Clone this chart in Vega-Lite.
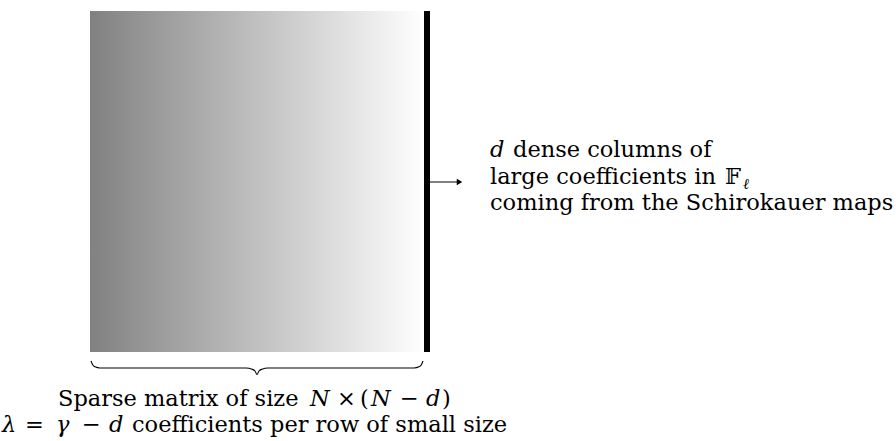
{
  "$schema": "https://vega.github.io/schema/vega-lite/v6.json",
  "width": 896,
  "height": 441,
  "autosize": {"type": "fit", "contains": "padding"},
  "padding": 0,
  "background": "white",
  "config": {"view": {"stroke": null}},
  "datasets": {
    "matrix": [{"x": 90, "x2": 424, "y": 11, "y2": 352}],
    "bar": [{"x": 424, "x2": 430, "y": 11, "y2": 352}],
    "arrow": [{"x": 430, "x2": 458, "y": 182}],
    "head": [{"x": 459.5, "y": 182}],
    "brace": [
      {"i": 0, "x": 91, "y": 361},
      {"i": 1, "x": 92.5, "y": 364.5},
      {"i": 2, "x": 95, "y": 366.8},
      {"i": 3, "x": 100, "y": 368},
      {"i": 4, "x": 246, "y": 368},
      {"i": 5, "x": 252, "y": 369.2},
      {"i": 6, "x": 255, "y": 371},
      {"i": 7, "x": 257, "y": 374.5},
      {"i": 8, "x": 259, "y": 371},
      {"i": 9, "x": 262, "y": 369.2},
      {"i": 10, "x": 268, "y": 368},
      {"i": 11, "x": 414, "y": 368},
      {"i": 12, "x": 419, "y": 366.8},
      {"i": 13, "x": 421.5, "y": 364.5},
      {"i": 14, "x": 423, "y": 361}
    ],
    "labels": [
      {"x": 490, "y": 157, "t": "d", "s": "i"},
      {"x": 513, "y": 157, "t": "dense columns of", "s": "r"},
      {"x": 490, "y": 184, "t": "large coefficients in", "s": "r"},
      {"x": 725, "y": 184, "t": "𝔽", "s": "r"},
      {"x": 743, "y": 189, "t": "ℓ", "s": "sub"},
      {"x": 490, "y": 210, "t": "coming from the Schirokauer maps", "s": "r"},
      {"x": 58, "y": 406, "t": "Sparse matrix of size", "s": "r"},
      {"x": 310, "y": 406, "t": "N", "s": "i"},
      {"x": 337, "y": 406, "t": "×", "s": "r"},
      {"x": 360, "y": 406, "t": "(", "s": "r"},
      {"x": 371, "y": 406, "t": "N", "s": "i"},
      {"x": 400, "y": 406, "t": "−", "s": "r"},
      {"x": 426, "y": 406, "t": "d", "s": "i"},
      {"x": 442, "y": 406, "t": ")", "s": "r"},
      {"x": 2, "y": 432, "t": "λ", "s": "i"},
      {"x": 25, "y": 432, "t": "=", "s": "r"},
      {"x": 56, "y": 432, "t": "γ", "s": "i"},
      {"x": 82, "y": 432, "t": "−", "s": "r"},
      {"x": 109, "y": 432, "t": "d", "s": "i"},
      {"x": 132, "y": 432, "t": "coefficients per row of small size", "s": "r"}
    ]
  },
  "layer": [
    {
      "data": {"name": "matrix"},
      "mark": {"type": "rect", "color": {"gradient": "linear", "x1": 0, "y1": 0, "x2": 1, "y2": 0, "stops": [{"offset": 0, "color": "#818181"}, {"offset": 1, "color": "#ffffff"}]}},
      "encoding": {
        "x": {"field": "x", "type": "quantitative", "scale": {"domain": [0, 896], "nice": false, "zero": false}, "axis": null},
        "x2": {"field": "x2"},
        "y": {"field": "y", "type": "quantitative", "scale": {"domain": [0, 441], "nice": false, "zero": false, "reverse": true}, "axis": null},
        "y2": {"field": "y2"}
      }
    },
    {
      "data": {"name": "bar"},
      "mark": {"type": "rect", "color": "black"},
      "encoding": {
        "x": {"field": "x", "type": "quantitative"},
        "x2": {"field": "x2"},
        "y": {"field": "y", "type": "quantitative"},
        "y2": {"field": "y2"}
      }
    },
    {
      "data": {"name": "arrow"},
      "mark": {"type": "rule", "color": "black", "strokeWidth": 1},
      "encoding": {
        "x": {"field": "x", "type": "quantitative"},
        "x2": {"field": "x2"},
        "y": {"field": "y", "type": "quantitative"}
      }
    },
    {
      "data": {"name": "head"},
      "mark": {"type": "point", "shape": "triangle-right", "filled": true, "color": "black", "opacity": 1, "size": 40},
      "encoding": {
        "x": {"field": "x", "type": "quantitative"},
        "y": {"field": "y", "type": "quantitative"}
      }
    },
    {
      "data": {"name": "brace"},
      "mark": {"type": "line", "color": "black", "strokeWidth": 1.1, "interpolate": "monotone"},
      "encoding": {
        "x": {"field": "x", "type": "quantitative"},
        "y": {"field": "y", "type": "quantitative"},
        "order": {"field": "i"}
      }
    },
    {
      "data": {"name": "labels"},
      "transform": [{"filter": "datum.s === 'r'"}],
      "mark": {"type": "text", "align": "left", "baseline": "alphabetic", "font": "DejaVu Serif", "fontSize": 22.5, "color": "black"},
      "encoding": {
        "x": {"field": "x", "type": "quantitative"},
        "y": {"field": "y", "type": "quantitative"},
        "text": {"field": "t"}
      }
    },
    {
      "data": {"name": "labels"},
      "transform": [{"filter": "datum.s === 'i'"}],
      "mark": {"type": "text", "align": "left", "baseline": "alphabetic", "font": "DejaVu Serif", "fontStyle": "italic", "fontSize": 22.5, "color": "black"},
      "encoding": {
        "x": {"field": "x", "type": "quantitative"},
        "y": {"field": "y", "type": "quantitative"},
        "text": {"field": "t"}
      }
    },
    {
      "data": {"name": "labels"},
      "transform": [{"filter": "datum.s === 'sub'"}],
      "mark": {"type": "text", "align": "left", "baseline": "alphabetic", "font": "DejaVu Serif", "fontStyle": "italic", "fontSize": 15, "color": "black"},
      "encoding": {
        "x": {"field": "x", "type": "quantitative"},
        "y": {"field": "y", "type": "quantitative"},
        "text": {"field": "t"}
      }
    }
  ]
}
